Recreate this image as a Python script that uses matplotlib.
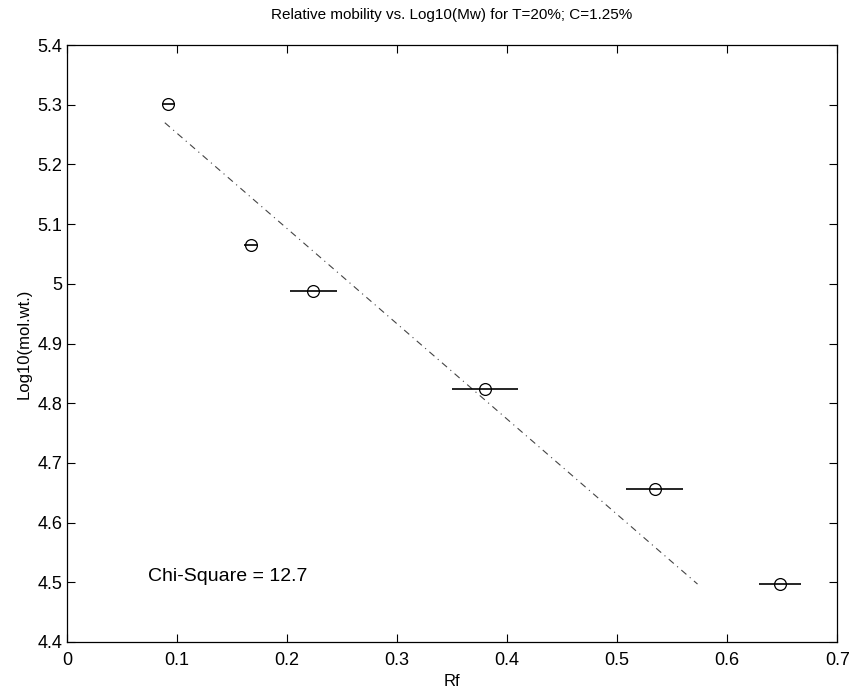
import matplotlib.pyplot as plt
from matplotlib.ticker import FixedLocator

plt.rcParams['font.family'] = ['Liberation Sans', 'DejaVu Sans']

# measured points: Rf, log10(Mw), horizontal error
rf = [0.092, 0.167, 0.224, 0.380, 0.534, 0.648]
log_mw = [5.302, 5.065, 4.988, 4.823, 4.657, 4.497]
rf_err = [0.006, 0.006, 0.021, 0.030, 0.026, 0.019]

# fitted line end points
fit_rf = [0.089, 0.573]
fit_log_mw = [5.27, 4.497]

x_ticks = [0, 0.1, 0.2, 0.3, 0.4, 0.5, 0.6, 0.7]
x_labels = ["0", "0.1", "0.2", "0.3", "0.4", "0.5", "0.6", "0.7"]
y_ticks = [4.4, 4.5, 4.6, 4.7, 4.8, 4.9, 5.0, 5.1, 5.2, 5.3, 5.4]
y_labels = ["4.4", "4.5", "4.6", "4.7", "4.8", "4.9", "5", "5.1", "5.2", "5.3", "5.4"]

fig = plt.figure(figsize=(8.57, 6.94), dpi=100)
ax = fig.add_axes([0.078, 0.075, 0.899, 0.86])

ax.plot(fit_rf, fit_log_mw, linestyle=(0, (6, 4, 1, 4)), color='#444444', linewidth=0.8)
ax.errorbar(rf, log_mw, xerr=rf_err, fmt='o', mfc='none', mec='black',
            ms=8.5, mew=0.9, ecolor='black', elinewidth=1.2, capsize=0)

ax.text(0.074, 4.509, "Chi-Square = 12.7", fontsize=14, va='center', ha='left')

ax.set_xlim(0, 0.7)
ax.set_ylim(4.4, 5.4)
ax.xaxis.set_major_locator(FixedLocator(x_ticks))
ax.set_xticklabels(x_labels)
ax.yaxis.set_major_locator(FixedLocator(y_ticks))
ax.set_yticklabels(y_labels)
ax.tick_params(direction='in', top=True, right=True, length=6, width=0.8,
               labelsize=13)
ax.tick_params(axis='x', pad=7)
ax.tick_params(axis='y', pad=3)
for s in ax.spines.values():
    s.set_linewidth(0.9)

ax.set_xlabel("Rf", fontsize=12, labelpad=4)
ax.set_ylabel("Log10(mol.wt.)", fontsize=12, labelpad=4)
ax.set_title("Relative mobility vs. Log10(Mw) for T=20%; C=1.25%", fontsize=11, pad=19)

fig.savefig("out.png", dpi=100)
